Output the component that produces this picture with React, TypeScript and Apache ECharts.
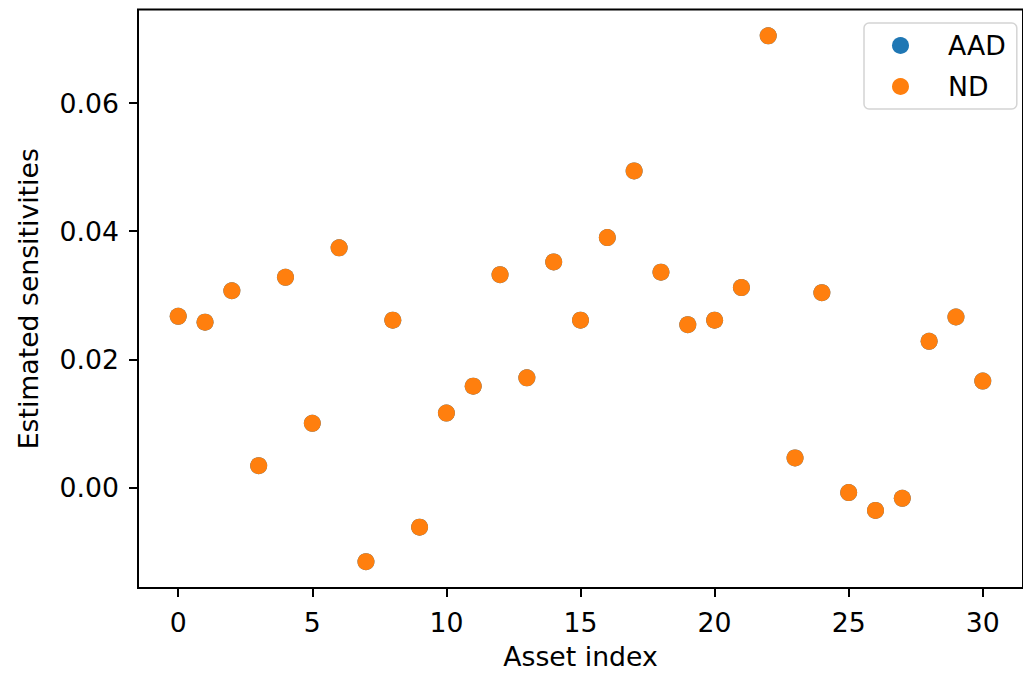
import React, { useEffect, useRef } from "react";
import * as echarts from "echarts";

const assetIndex = [0, 1, 2, 3, 4, 5, 6, 7, 8, 9, 10, 11, 12, 13, 14, 15, 16, 17, 18, 19, 20, 21, 22, 23, 24, 25, 26, 27, 28, 29, 30];
const aadValues = [0.0267, 0.0258, 0.0307, 0.0034, 0.0328, 0.0100, 0.0374, -0.0116, 0.0261, -0.0062, 0.0116, 0.0158, 0.0332, 0.0171, 0.0352, 0.0261, 0.0390, 0.0494, 0.0336, 0.0254, 0.0261, 0.0312, 0.0705, 0.0046, 0.0304, -0.0008, -0.0036, -0.0017, 0.0228, 0.0266, 0.0166];
const ndValues = [0.0267, 0.0258, 0.0307, 0.0034, 0.0328, 0.0100, 0.0374, -0.0116, 0.0261, -0.0062, 0.0116, 0.0158, 0.0332, 0.0171, 0.0352, 0.0261, 0.0390, 0.0494, 0.0336, 0.0254, 0.0261, 0.0312, 0.0705, 0.0046, 0.0304, -0.0008, -0.0036, -0.0017, 0.0228, 0.0266, 0.0166];
const xTicks = [0, 5, 10, 15, 20, 25, 30];
const yTicks = [0, 0.02, 0.04, 0.06];
const seriesNames = ["AAD", "ND"];

const FONT = "DejaVu Sans";
const FS = 26.7;

export default function App() {
  const ref = useRef<HTMLDivElement>(null);
  useEffect(() => {
    if (!ref.current) return;
    const chart = echarts.init(ref.current, null, { renderer: "svg" });
    const toPairs = (vals: number[]) => assetIndex.map((x, i) => [x, vals[i]]);
    chart.setOption({
      animation: false,
      backgroundColor: "#ffffff",
      textStyle: { fontFamily: FONT },
      grid: {
        left: 138,
        top: 9.5,
        width: 892,
        height: 582,
        show: true,
        borderColor: "#000",
        borderWidth: 2,
        backgroundColor: "transparent",
        containLabel: false,
      },
      legend: {
        data: seriesNames,
        orient: "vertical",
        left: 864,
        top: 23,
        padding: [9, 11, 9, 28],
        itemGap: 14,
        itemWidth: 17,
        itemHeight: 17,
        icon: "circle",
        borderColor: "#d4d4d4",
        borderWidth: 1.5,
        borderRadius: 5,
        backgroundColor: "rgba(255,255,255,0.8)",
        textStyle: {
          fontFamily: FONT,
          fontSize: FS,
          color: "#000",
          lineHeight: 27,
          padding: [0, 0, 0, 34],
        },
      },
      xAxis: {
        type: "value",
        min: -1.5,
        max: 31.5,
        name: "Asset index",
        nameLocation: "middle",
        nameGap: 55,
        nameTextStyle: { fontFamily: FONT, fontSize: FS, color: "#000" },
        axisLine: { show: false, onZero: false },
        splitLine: { show: false },
        axisTick: {
          show: true,
          length: 9,
          customValues: xTicks,
          lineStyle: { color: "#000", width: 2 },
        },
        axisLabel: {
          customValues: xTicks,
          margin: 21,
          fontFamily: FONT,
          fontSize: FS,
          color: "#000",
        },
      },
      yAxis: {
        type: "value",
        min: -0.0157,
        max: 0.0746,
        name: "Estimated sensitivities",
        nameLocation: "middle",
        nameGap: 96,
        nameRotate: 90,
        nameTextStyle: { fontFamily: FONT, fontSize: FS, color: "#000" },
        axisLine: { show: false, onZero: false },
        splitLine: { show: false },
        axisTick: {
          show: true,
          length: 9,
          customValues: yTicks,
          lineStyle: { color: "#000", width: 2 },
        },
        axisLabel: {
          customValues: yTicks,
          margin: 19,
          fontFamily: FONT,
          fontSize: FS,
          color: "#000",
          formatter: (v: number) => v.toFixed(2),
        },
      },
      series: [
        {
          name: seriesNames[0],
          type: "scatter",
          symbol: "circle",
          symbolSize: 17,
          itemStyle: { color: "#1f77b4", opacity: 1 },
          data: toPairs(aadValues),
          z: 2,
        },
        {
          name: seriesNames[1],
          type: "scatter",
          symbol: "circle",
          symbolSize: 17,
          itemStyle: { color: "#ff7f0e", opacity: 1 },
          data: toPairs(ndValues),
          z: 3,
        },
      ],
    });
    return () => chart.dispose();
  }, []);
  return (
    <div
      ref={ref}
      style={{ position: "absolute", left: 0, top: 0, width: 1023, height: 675 }}
    />
  );
}
